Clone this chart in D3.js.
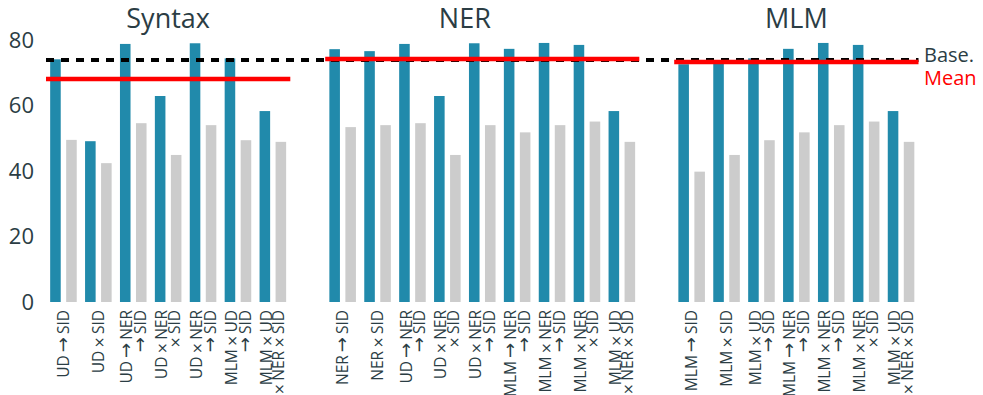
<!DOCTYPE html>
<html>
<head>
<meta charset="utf-8">
<script src="https://cdn.jsdelivr.net/npm/d3@7"></script>
<style>
  body { margin: 0; background: #fff; }
  text { font-family: "Open Sans", sans-serif; }
</style>
</head>
<body>
<svg id="chart" width="983" height="395"></svg>
<script>
// panels and their models (label lines split with "|")
const panels = ["Syntax", "NER", "MLM"];
const syntaxLabels = ["UD→SID", "UD×SID", "UD→NER|→SID", "UD×NER|×SID", "UD×NER|→SID", "MLM×UD|→SID", "MLM×UD|×NER×SID"];
const nerLabels = ["NER→SID", "NER×SID", "UD→NER|→SID", "UD×NER|×SID", "UD×NER|→SID", "MLM→NER|→SID", "MLM×NER|→SID", "MLM×NER|×SID", "MLM×UD|×NER×SID"];
const mlmLabels = ["MLM→SID", "MLM×SID", "MLM×UD|→SID", "MLM→NER|→SID", "MLM×NER|→SID", "MLM×NER|×SID", "MLM×UD|×NER×SID"];

// blue = main score, grey = second score
const syntaxMain = [74.1, 49.1, 78.8, 62.9, 79.0, 74.4, 58.3];
const syntaxAlt  = [49.5, 42.4, 54.6, 44.9, 54.0, 49.4, 48.9];
const nerMain = [77.2, 76.6, 78.8, 62.9, 79.0, 77.3, 79.1, 78.5, 58.3];
const nerAlt  = [53.4, 54.0, 54.6, 44.9, 54.0, 51.8, 54.0, 55.1, 48.9];
const mlmMain = [72.6, 72.9, 74.4, 77.3, 79.1, 78.5, 58.3];
const mlmAlt  = [39.8, 44.9, 49.4, 51.8, 54.0, 55.1, 48.9];

const baseline = 73.9;
const yTicks = [0, 20, 40, 60, 80];

const labels = [syntaxLabels, nerLabels, mlmLabels];
const mains = [syntaxMain, nerMain, mlmMain];
const alts = [syntaxAlt, nerAlt, mlmAlt];

const blue = "#218aab", grey = "#cccccc", ink = "#2b3d44";

// slot keys, with an empty slot between panels
let slots = [];
let bars = [];
panels.forEach((p, pi) => {
    if (pi > 0) slots.push("gap" + pi);
    labels[pi].forEach((l, i) => {
        let key = p + "|" + i;
        slots.push(key);
        bars.push({key: key, s: "main", v: mains[pi][i]});
        bars.push({key: key, s: "alt", v: alts[pi][i]});
    });
});
let labelOf = {};
panels.forEach((p, pi) => labels[pi].forEach((l, i) => labelOf[p + "|" + i] = l));

const svg = d3.select("#chart");

const x = d3.scaleBand().domain(slots).range([46, 918.5]);
const xs = d3.scaleBand().domain(["main", "alt"]).range([0, x.bandwidth()])
    .paddingInner(0.34).paddingOuter(0.26);
const y = d3.scaleLinear().domain([0, 80]).range([302, 40]);

// bars
svg.append("g").selectAll("rect")
    .data(bars)
    .join("rect")
    .attr("x", d => x(d.key) + xs(d.s))
    .attr("y", d => y(d.v))
    .attr("width", xs.bandwidth())
    .attr("height", d => y(0) - y(d.v))
    .attr("fill", d => d.s == "main" ? blue : grey);

// y axis
let yax = svg.append("g")
    .attr("transform", "translate(38,0)")
    .call(d3.axisLeft(y).tickValues(yTicks).tickSize(0).tickPadding(4));
yax.select(".domain").remove();
yax.selectAll("text").attr("font-size", 22).attr("fill", ink)
    .style("font-family", "'Open Sans', sans-serif");

// x axis with rotated, multi-line labels; operators spaced like math text
let xax = svg.append("g")
    .attr("transform", "translate(0," + y(0) + ")")
    .call(d3.axisBottom(x).tickValues(slots.filter(s => !s.startsWith("gap"))).tickSize(0));
xax.select(".domain").remove();
xax.selectAll(".tick text").each(function(k) {
    let t = d3.select(this);
    let lines = labelOf[k].split("|");
    t.text(null)
        .attr("transform", "rotate(-90)")
        .attr("text-anchor", "end")
        .attr("x", -8).attr("y", 0).attr("dy", null)
        .attr("font-size", 15.5).attr("fill", ink)
        .style("font-family", "'Open Sans', sans-serif");
    lines.forEach((ln, i) => {
        let off = lines.length == 1 ? 0 : (i == 0 ? -6.5 : 6.5);
        let parts = ln.split(/(→|×)/).filter(s => s.length);
        let pad = 0;
        parts.forEach((s, j) => {
            let sp = t.append("tspan").text(s);
            if (j == 0) sp.attr("x", -8).attr("y", off).attr("dy", "0.36em");
            if (s == "→" || s == "×") {
                let g = s == "→" ? 3 : 2.5;
                sp.style("font-family", "'DejaVu Sans', sans-serif")
                  .attr("font-size", s == "→" ? 18 : 14);
                if (j > 0) sp.attr("dx", g);
                pad = g;
            } else {
                if (pad) sp.attr("dx", pad);
                pad = 0;
            }
        });
    });
});

// dashed baseline across all panels
svg.append("line")
    .attr("x1", x.range()[0]).attr("x2", x.range()[1])
    .attr("y1", y(baseline)).attr("y2", y(baseline))
    .attr("stroke", "#000").attr("stroke-width", 4)
    .attr("stroke-dasharray", "8,7");

// mean line per panel
panels.forEach((p, pi) => {
    let first = x(p + "|0");
    let last = x(p + "|" + (labels[pi].length - 1)) + x.bandwidth();
    let m = d3.mean(mains[pi]);
    svg.append("line")
        .attr("x1", first).attr("x2", last)
        .attr("y1", y(m)).attr("y2", y(m))
        .attr("stroke", "#ff0000").attr("stroke-width", 4.5);
});

// panel titles
const titleSlot = [3.5, 12, 21.5];
panels.forEach((p, pi) => {
    svg.append("text")
        .attr("x", x.range()[0] + titleSlot[pi] * x.step())
        .attr("y", 28)
        .attr("text-anchor", "middle")
        .attr("font-size", 27)
        .attr("fill", ink)
        .text(p);
});

// legend at right end
svg.append("text")
    .attr("x", 924).attr("y", y(baseline) + 2)
    .attr("font-size", 20).attr("fill", ink).text("Base.");
svg.append("text")
    .attr("x", 924).attr("y", y(baseline) + 25)
    .attr("font-size", 20).attr("fill", "#ff0000").text("Mean");
</script>
</body>
</html>
